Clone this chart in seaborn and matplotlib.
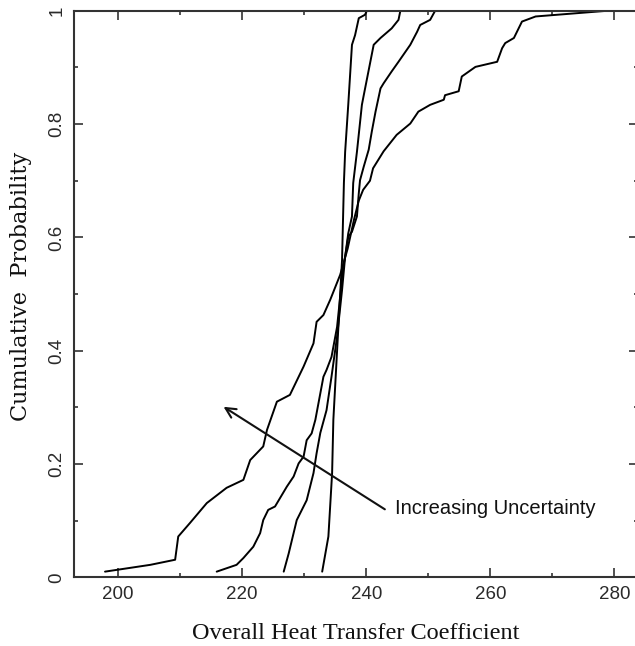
import matplotlib
matplotlib.use("Agg")
import matplotlib.pyplot as plt
from matplotlib.ticker import MultipleLocator
import seaborn as sns
import pandas as pd

a_x = [197.9, 205.2, 209.2, 209.7, 211.6, 214.3, 217.5, 220.2, 221.3, 223.4, 224.0,
       225.6, 227.7, 229.9, 231.5, 232.0, 233.1, 234.2, 235.8, 237.0, 238.0, 238.8,
       239.5, 240.6, 241.1, 242.8, 244.9, 247.1, 248.4, 250.3, 252.5, 252.7, 254.9,
       255.4, 257.6, 261.1, 261.9, 262.4, 263.8, 265.1, 267.3, 278.8]
a_y = [0.010, 0.022, 0.031, 0.072, 0.096, 0.131, 0.158, 0.172, 0.207, 0.231, 0.260,
       0.310, 0.322, 0.372, 0.413, 0.451, 0.463, 0.490, 0.534, 0.580, 0.630, 0.665,
       0.684, 0.700, 0.722, 0.752, 0.781, 0.801, 0.822, 0.834, 0.843, 0.851, 0.858,
       0.884, 0.901, 0.910, 0.934, 0.943, 0.952, 0.981, 0.990, 1.000]

b_x = [215.9, 219.1, 220.2, 221.8, 222.9, 223.4, 224.2, 225.3, 227.2, 228.3, 229.1,
       229.9, 230.4, 231.2, 231.8, 233.1, 233.6, 234.4, 235.3, 235.8, 236.2, 236.6,
       237.1, 237.7, 238.5, 238.8, 239.0, 239.6, 240.4, 240.9, 241.5, 242.3, 242.8,
       244.1, 245.2, 247.1, 248.2, 248.7, 250.3, 251.1]
b_y = [0.010, 0.022, 0.034, 0.054, 0.078, 0.101, 0.119, 0.125, 0.160, 0.178, 0.201,
       0.213, 0.242, 0.254, 0.278, 0.354, 0.366, 0.389, 0.442, 0.495, 0.542, 0.566,
       0.601, 0.610, 0.637, 0.678, 0.701, 0.725, 0.755, 0.787, 0.822, 0.863, 0.872,
       0.893, 0.910, 0.940, 0.963, 0.975, 0.984, 1.000]

c_x = [226.7, 227.5, 228.8, 230.4, 231.5, 232.0, 232.6, 233.6, 234.4, 235.3, 236.1,
       236.6, 237.1, 237.7, 237.9, 238.5, 239.3, 239.6, 241.2, 242.3, 244.1, 245.2,
       245.5]
c_y = [0.010, 0.042, 0.101, 0.136, 0.184, 0.219, 0.255, 0.295, 0.354, 0.425, 0.507,
       0.566, 0.607, 0.637, 0.696, 0.751, 0.834, 0.851, 0.940, 0.952, 0.969, 0.984,
       1.000]

d_x = [232.9, 233.9, 234.5, 234.7, 235.4, 236.1, 236.4, 236.6, 237.1, 237.7, 238.2,
       238.8, 239.8, 240.1]
d_y = [0.010, 0.072, 0.184, 0.278, 0.420, 0.560, 0.696, 0.751, 0.834, 0.940, 0.957,
       0.987, 0.993, 1.000]

x_ticks = [200, 220, 240, 260, 280]
y_ticks = [0, 0.2, 0.4, 0.6, 0.8, 1]
y_tick_labels = ["0", "0.2", "0.4", "0.6", "0.8", "1"]

x_label = "Overall Heat Transfer Coefficient"
y_label = "Cumulative  Probability"
note_text = "Increasing Uncertainty"
arrow_head = (217.0, 0.301)
arrow_tail = (243.0, 0.120)
note_pos = (244.6, 0.121)

# ---- build long table ----
frames = []
for name, xs, ys in [("A", a_x, a_y), ("B", b_x, b_y), ("C", c_x, c_y), ("D", d_x, d_y)]:
    frames.append(pd.DataFrame({"x": xs, "y": ys, "curve": name, "order": range(len(xs))}))
df = pd.concat(frames, ignore_index=True)

sns.set_theme(style="ticks")
plt.rcParams["font.family"] = ["Liberation Sans", "DejaVu Sans"]

fig = plt.figure(figsize=(6.35, 6.46), dpi=100)
W, H = 635, 646
left_px, right_px, top_px, bottom_px = 74, 638, 10.8, 577.3
ax = fig.add_axes([left_px / W, 1 - bottom_px / H, (right_px - left_px) / W, (bottom_px - top_px) / H])

sns.lineplot(data=df, x="x", y="y", hue="curve", units="curve", estimator=None, sort=False,
             palette=["black"] * 4, legend=False, linewidth=1.4, ax=ax)

ax.set_xlim(192.9, 283.8)
ax.set_ylim(0, 1)

ax.xaxis.set_major_locator(MultipleLocator(20))
ax.xaxis.set_minor_locator(MultipleLocator(10))
ax.yaxis.set_major_locator(MultipleLocator(0.2))
ax.yaxis.set_minor_locator(MultipleLocator(0.1))
ax.set_xticks(x_ticks)
ax.set_yticks(y_ticks)
ax.set_yticklabels(y_tick_labels, rotation=90, va="center")

ax.tick_params(which="both", direction="in", top=True, right=True, color="#333333", width=1.2)
ax.tick_params(which="major", length=6.5, labelsize=13.5, pad=6, labelcolor="#2a2a2a")
ax.tick_params(which="minor", length=3.2)

for side in ["left", "bottom", "top"]:
    ax.spines[side].set_color("#333333")
    ax.spines[side].set_linewidth(1.5)
ax.spines["right"].set_visible(False)

ax.set_xlabel(x_label, family=["Liberation Serif", "DejaVu Serif"], fontsize=17.5, labelpad=15, color="#111111")
ax.set_ylabel(y_label, family=["DejaVu Serif"], fontsize=16.2, color="#111111")
ax.yaxis.set_label_coords(-0.074, 0.514)

ax.annotate("", xy=arrow_head, xytext=arrow_tail,
            arrowprops=dict(arrowstyle="->", lw=1.5, color="#111111",
                            mutation_scale=18, shrinkA=0, shrinkB=0))
ax.text(note_pos[0], note_pos[1], note_text, ha="left", va="center", fontsize=14.5, color="#111111")

fig.savefig("out.png", dpi=100)
